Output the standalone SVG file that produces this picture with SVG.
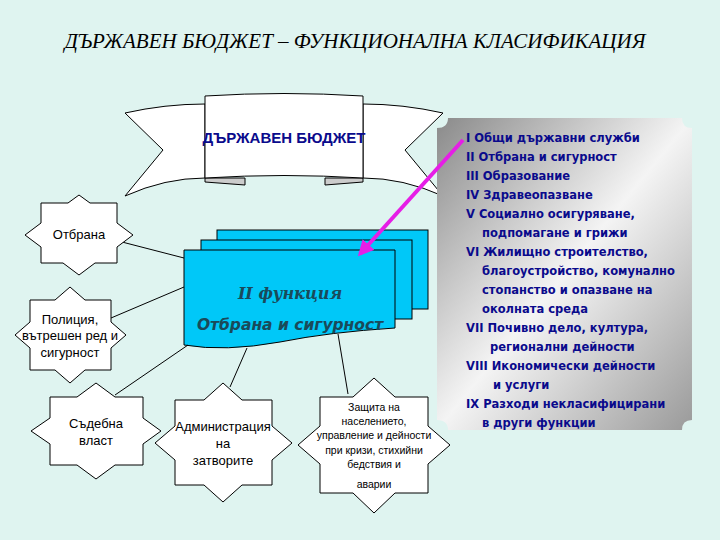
<svg xmlns="http://www.w3.org/2000/svg" width="720" height="540" viewBox="0 0 720 540">
<defs>
<linearGradient id="g" x1="0" y1="0" x2="1" y2="1">
<stop offset="0" stop-color="#8a8a8a"/><stop offset="0.5" stop-color="#f4f4f4"/><stop offset="1" stop-color="#9a9a9a"/>
</linearGradient>
<marker id="ah" viewBox="0 0 10 10" refX="8" refY="5" markerWidth="4" markerHeight="4" orient="auto"><path d="M0,0 L10,5 L0,10 z" fill="#e61ee6"/></marker>
<style>
.star{fill:#fff;stroke:#000;stroke-width:1}
.st{font-family:"Liberation Sans",Arial,sans-serif;font-size:13px;fill:#000;text-anchor:middle}
.card{fill:#00c8f8;stroke:#000;stroke-width:1}
.lst{font-family:"DejaVu Sans",sans-serif;font-size:11.5px;font-weight:bold;fill:#0a0a8c}
.cn{stroke:#000;stroke-width:1;fill:none}
</style>
</defs>
<rect width="720" height="540" fill="#dff4f0"/>
<text x="355" y="48" text-anchor="middle" font-family="Liberation Serif,serif" font-style="italic" font-size="21" fill="#000">ДЪРЖАВЕН БЮДЖЕТ – ФУНКЦИОНАЛНА КЛАСИФИКАЦИЯ</text>

<g id="banner">
<path d="M125,113 Q165,104 205,104 L205,178 Q165,178 125,196 L163,150 Z" fill="#fff" stroke="#000"/>
<path d="M443,113 Q403,104 363,104 L363,178 Q403,178 443,196 L405,150 Z" fill="#fff" stroke="#000"/>
<path d="M205,178 L245,178 L245,185 L205,182 Z" fill="#ccc" stroke="#000"/>
<path d="M363,178 L325,178 L325,185 L363,182 Z" fill="#ccc" stroke="#000"/>
<path d="M205,96 Q284,91 363,96 L363,178 Q284,173 205,178 Z" fill="#fff" stroke="#000"/>
<text x="284" y="143" text-anchor="middle" font-family="Liberation Sans,Arial,sans-serif" font-weight="bold" font-size="15" fill="#0a0a8c">ДЪРЖАВЕН БЮДЖЕТ</text>
</g>

<g id="panel">
<path d="M448,118 L682,118 Q682,128 692,128 L692,420 Q682,420 682,430 L448,430 Q448,420 437,420 L437,128 Q448,128 448,118 Z" fill="url(#g)"/>
<g class="lst">
<text x="466" y="142">I Общи държавни служби</text>
<text x="466" y="161">II Отбрана и сигурност</text>
<text x="466" y="180">III Образование</text>
<text x="466" y="199">IV Здравеопазване</text>
<text x="466" y="218">V Социално осигуряване,</text>
<text x="482" y="237">подпомагане и грижи</text>
<text x="466" y="256">VI Жилищно строителство,</text>
<text x="482" y="275">благоустройство, комунално</text>
<text x="482" y="294">стопанство и опазване на</text>
<text x="482" y="313">околната среда</text>
<text x="466" y="332">VII Почивно дело, култура,</text>
<text x="490" y="351">регионални дейности</text>
<text x="466" y="370">VIII Икономически дейности</text>
<text x="493" y="389">и услуги</text>
<text x="466" y="408">IX Разходи некласифицирани</text>
<text x="482" y="427">в други функции</text>
</g>
</g>

<g id="function">
<rect class="card" x="217" y="230" width="211" height="79"/>
<rect class="card" x="201" y="240" width="211" height="79"/>
<path class="card" d="M184,250 L395,250 L395,328 Q330,332 280,342 Q225,352 184,345 Z"/>
<text x="290" y="299" text-anchor="middle" font-family="DejaVu Serif,serif" font-style="italic" font-weight="bold" font-size="16" fill="#1a4a5a">II функция</text>
<text x="290" y="330" text-anchor="middle" font-family="DejaVu Sans,sans-serif" font-style="italic" font-weight="bold" font-size="15.5" fill="#1a4a5a">Отбрана и сигурност</text>
</g>

<g id="connectors">
<line class="cn" x1="122" y1="242" x2="184" y2="258"/>
<line class="cn" x1="111" y1="318" x2="184" y2="287"/>
<line class="cn" x1="115" y1="395" x2="188" y2="345"/>
<line class="cn" x1="230" y1="387" x2="247" y2="348"/>
<line class="cn" x1="348" y1="394" x2="338" y2="334"/>
<line x1="463" y1="140" x2="360" y2="254" stroke="#e61ee6" stroke-width="4" marker-end="url(#ah)"/>
</g>

<g id="otbrana">
<path class="star" d="M41,203 L68,203 L79,195 L90,203 L117,203 L117,223 L133,235 L117,247 L117,263 L95,263 L79,275 L63,263 L41,263 L41,247 L25,235 L41,223 Z"/>
<text class="st" x="79" y="239">Отбрана</text>
</g>
<g id="policia">
<path class="star" d="M30,300 L55,300 L70,287 L85,300 L111,300 L111,322 L126,335 L111,348 L111,370 L85,370 L70,383 L55,370 L30,370 L30,348 L15,335 L30,322 Z"/>
<text class="st" x="70" y="324">Полиция,</text>
<text class="st" x="70" y="340">вътрешен ред и</text>
<text class="st" x="70" y="357">сигурност</text>
</g>
<g id="sadebna">
<path class="star" d="M50,397 L77,397 L96,383 L115,397 L143,397 L143,418 L161,431 L143,444 L143,465 L115,465 L96,479 L77,465 L50,465 L50,444 L31,431 L50,418 Z"/>
<text class="st" x="96" y="428">Съдебна</text>
<text class="st" x="96" y="445">власт</text>
</g>
<g id="administracia">
<path class="star" d="M175,400 L204,400 L223,383 L242,400 L272,400 L272,426 L292,443 L272,460 L272,485 L242,485 L223,502 L204,485 L175,485 L175,460 L155,443 L175,426 Z"/>
<text class="st" x="223" y="431">Администрация</text>
<text class="st" x="223" y="448">на</text>
<text class="st" x="223" y="465">затворите</text>
</g>
<g id="zashtita">
<path class="star" d="M320,397 L353,397 L374,378 L395,397 L428,397 L428,426 L450,445 L428,464 L428,493 L395,493 L374,513 L353,493 L320,493 L320,464 L298,445 L320,426 Z"/>
<g class="st" style="font-size:10.5px">
<text x="374" y="411">Защита на</text>
<text x="374" y="425">населението,</text>
<text x="374" y="439">управление и дейности</text>
<text x="374" y="454">при кризи, стихийни</text>
<text x="374" y="468">бедствия и</text>
<text x="374" y="488">аварии</text>
</g>
</g>
</svg>
